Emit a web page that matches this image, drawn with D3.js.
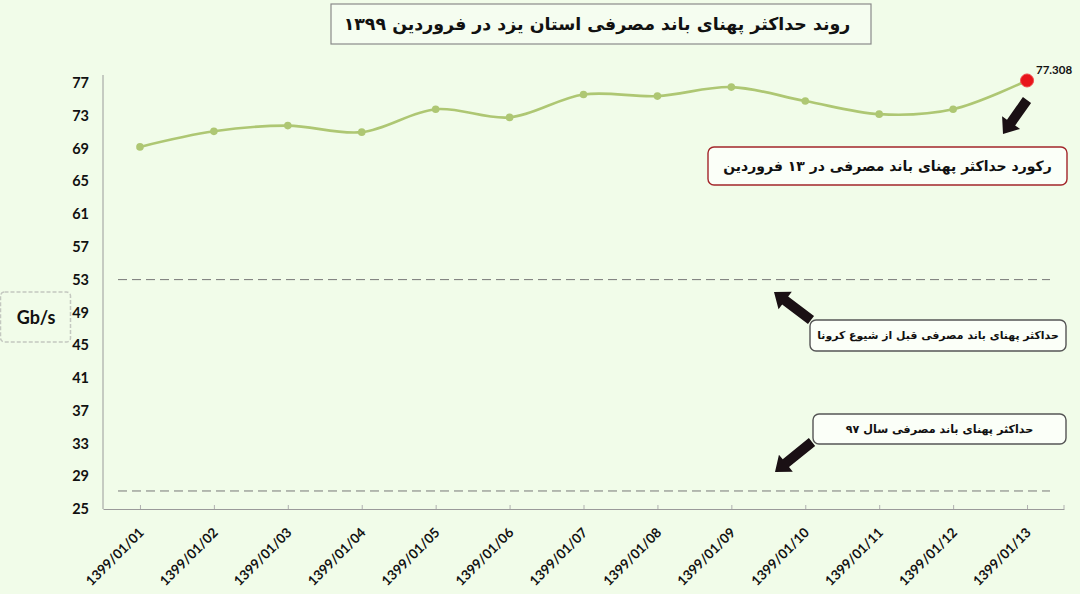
<!DOCTYPE html>
<html>
<head>
<meta charset="utf-8">
<script src="https://cdn.jsdelivr.net/npm/d3@7"></script>
<style>
  body { margin: 0; background: #f1fce9; }
  svg { display: block; }
  .ylab { font-family: Lato, "Open Sans", sans-serif; font-weight: bold; font-size: 14.5px; fill: #111; }
  .xlab { font-family: Lato, "Open Sans", sans-serif; font-weight: bold; font-size: 13.5px; fill: #111; }
  .fa { font-family: "DejaVu Sans", sans-serif; font-weight: bold; fill: #111; }
</style>
</head>
<body>
<div id="chart"></div>
<script>
// days of Farvardin 1399
const dates = ["1399/01/01", "1399/01/02", "1399/01/03", "1399/01/04", "1399/01/05", "1399/01/06", "1399/01/07",
  "1399/01/08", "1399/01/09", "1399/01/10", "1399/01/11", "1399/01/12", "1399/01/13"];
// peak bandwidth, Gb/s
const peak = [69.2, 71.1, 71.8, 71.0, 73.8, 72.8, 75.6, 75.4, 76.5, 74.8, 73.2, 73.8, 77.308];
// reference levels
const beforeCorona = 53;
const year97 = 27.2;
const yTicks = [25, 29, 33, 37, 41, 45, 49, 53, 57, 61, 65, 69, 73, 77];

const title = "روند حداکثر پهنای باند مصرفی استان یزد در فروردین ۱۳۹۹";
const noteRecord = "رکورد حداکثر  پهنای باند مصرفی در ۱۳ فروردین";
const noteCorona = "حداکثر پهنای باند مصرفی قبل از شیوع کرونا";
const note97 = "حداکثر پهنای باند مصرفی سال ۹۷";

const width = 1080, height = 594;
const plotL = 103, plotR = 1064, plotT = 83, plotB = 509;

const svg = d3.select("#chart").append("svg")
  .attr("width", width)
  .attr("height", height);

const x = d3.scalePoint().domain(dates).range([plotL, plotR]).padding(0.5);
const y = d3.scaleLinear().domain([25, 77]).range([plotB, plotT]);

// title box
svg.append("rect")
  .attr("x", 331).attr("y", 4).attr("width", 540).attr("height", 40)
  .attr("fill", "#f5fdf0").attr("stroke", "#8a8a8a").attr("stroke-width", 1.2);
svg.append("text").attr("class", "fa")
  .attr("x", 597).attr("y", 30)
  .attr("text-anchor", "middle").attr("direction", "rtl")
  .style("font-size", "17.4px")
  .text(title);

// y axis
const yAxis = svg.append("g")
  .attr("transform", `translate(${plotL},0)`)
  .call(d3.axisLeft(y).tickValues(yTicks).tickSize(0).tickPadding(14));
yAxis.select(".domain").attr("stroke", "#9a9a9a").attr("d", `M0,${plotT - 8}V${plotB}`);
yAxis.selectAll("text").attr("class", "ylab");

// x axis
const xAxis = svg.append("g")
  .attr("transform", `translate(0,${plotB})`)
  .call(d3.axisBottom(x).tickSize(-4).tickSizeOuter(0));
xAxis.select(".domain").attr("stroke", "#9a9a9a");
xAxis.selectAll(".tick line").attr("stroke", "#b0b0b0");
xAxis.append("line").attr("x1", plotR).attr("x2", plotR).attr("y1", 0).attr("y2", -4).attr("stroke", "#b0b0b0");
xAxis.selectAll("text")
  .attr("class", "xlab")
  .attr("text-anchor", "end")
  .attr("transform", "translate(1,21) rotate(-45)")
  .attr("dy", "0.35em").attr("y", 0).attr("x", 0);

// reference dashed lines
[beforeCorona, year97].forEach(v => {
  svg.append("line")
    .attr("x1", 118).attr("x2", 1050)
    .attr("y1", y(v)).attr("y2", y(v))
    .attr("stroke", "#777").attr("stroke-width", 1)
    .attr("stroke-dasharray", "9,5");
});

// the line
const line = d3.line()
  .x((d, i) => x(dates[i]))
  .y(d => y(d))
  .curve(d3.curveCatmullRom.alpha(0.5));

svg.append("path")
  .datum(peak)
  .attr("fill", "none")
  .attr("stroke", "#aec773")
  .attr("stroke-width", 2.6)
  .attr("d", line);

svg.selectAll(".pt")
  .data(peak)
  .enter()
  .append("circle")
  .attr("cx", (d, i) => x(dates[i]))
  .attr("cy", d => y(d))
  .attr("r", (d, i) => i === peak.length - 1 ? 6.5 : 3.8)
  .attr("fill", (d, i) => i === peak.length - 1 ? "#e8141b" : "#aec773")
  .attr("stroke", (d, i) => i === peak.length - 1 ? "#f04a4a" : "none");

// value of record
const last = peak.length - 1;
svg.append("text").attr("class", "ylab")
  .attr("x", x(dates[last]) + 9).attr("y", y(peak[last]) - 6)
  .style("font-size", "11.5px")
  .text(peak[last].toFixed(3));

// Gb/s box
svg.append("rect")
  .attr("x", 0.5).attr("y", 292).attr("width", 70).attr("height", 50).attr("rx", 4)
  .attr("fill", "none").attr("stroke", "#c4c8c0").attr("stroke-width", 1.5)
  .attr("stroke-dasharray", "4,2");
svg.append("text").attr("class", "ylab")
  .attr("x", 36).attr("y", 324).attr("text-anchor", "middle")
  .style("font-size", "18px")
  .text("Gb/s");

// note boxes
function note(x0, y0, w, h, txt, size, stroke) {
  svg.append("rect")
    .attr("x", x0).attr("y", y0).attr("width", w).attr("height", h).attr("rx", 6)
    .attr("fill", "#fbfff8").attr("stroke", stroke).attr("stroke-width", 1.4);
  svg.append("text").attr("class", "fa")
    .attr("x", x0 + w / 2).attr("y", y0 + h / 2)
    .attr("dy", "0.35em")
    .attr("text-anchor", "middle").attr("direction", "rtl")
    .style("font-size", size + "px")
    .text(txt);
}
note(708, 147, 359, 38, noteRecord, 14, "#a3262a");
note(810, 320, 256, 31, noteCorona, 10.9, "#555");
note(813, 414, 253, 30, note97, 11.2, "#555");

// block arrows (tail -> tip)
function arrow(x1, y1, x2, y2) {
  const dx = x2 - x1, dy = y2 - y1, len = Math.hypot(dx, dy);
  const ux = dx / len, uy = dy / len, nx = -uy, ny = ux;
  const hw = 5, hh = 11, hl = 14;
  const bx = x2 - ux * hl, by = y2 - uy * hl;
  const pts = [
    [x1 + nx * hw, y1 + ny * hw],
    [bx + nx * hw, by + ny * hw],
    [bx + nx * hh, by + ny * hh],
    [x2, y2],
    [bx - nx * hh, by - ny * hh],
    [bx - nx * hw, by - ny * hw],
    [x1 - nx * hw, y1 - ny * hw]
  ];
  svg.append("polygon")
    .attr("points", pts.map(p => p.join(",")).join(" "))
    .attr("fill", "#1a1014");
}
arrow(1027, 100, 1003, 134);
arrow(811, 320, 774, 292);
arrow(812, 442, 775, 472);
</script>
</body>
</html>
